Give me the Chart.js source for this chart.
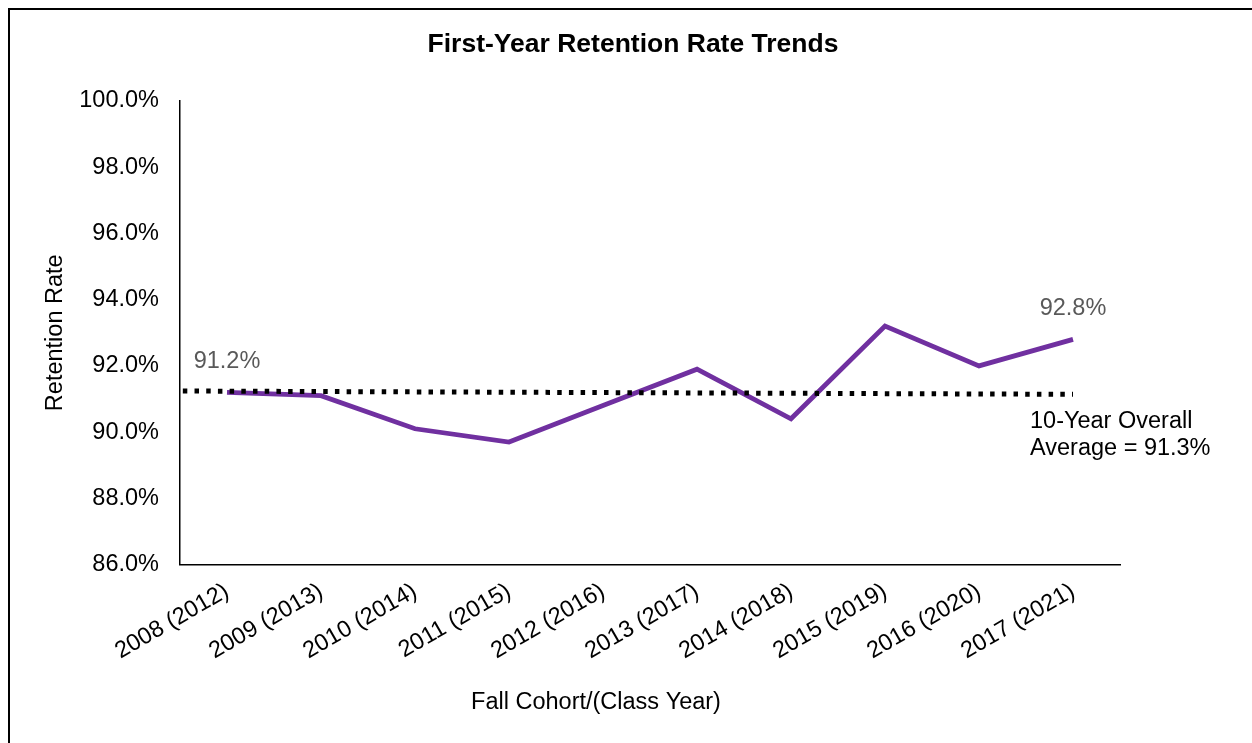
<!DOCTYPE html>
<html>
<head>
<meta charset="utf-8">
<title>First-Year Retention Rate Trends</title>
<script src="https://cdn.jsdelivr.net/npm/chart.js@4.4.1/dist/chart.umd.min.js"></script>
<style>
  html, body { margin: 0; padding: 0; background: #ffffff; overflow: hidden; }
  canvas { display: block; }
</style>
</head>
<body>
<canvas id="retention-chart" width="1252" height="743"></canvas>
<script>
// Fall cohort / (class year) categories
const cohorts = [
    '2008 (2012)', '2009 (2013)', '2010 (2014)', '2011 (2015)', '2012 (2016)',
    '2013 (2017)', '2014 (2018)', '2015 (2019)', '2016 (2020)', '2017 (2021)'
];

// First-year retention rate (%) per cohort
const retentionRates = [91.2, 91.1, 90.1, 89.7, 90.8, 91.9, 90.4, 93.2, 92.0, 92.8];

// Dotted 10-year average line: runs from the axis edge to the last cohort
const averagePositions = [-0.47, 9];
const averageValues = [91.24, 91.14];
const averageNote = ['10-Year Overall', 'Average = 91.3%'];

// Only the first and last points carry a value label
const labelledPoints = [0, 9];

// Y axis tick values (%)
const yTicks = [86, 88, 90, 92, 94, 96, 98, 100];

const FONT = "'Liberation Sans', Arial, Helvetica, sans-serif";
const PURPLE = '#7030A0';
const TEXT_SIZE = 23.5;

// Frame, data labels, average note and x axis title
const decorations = {
    id: 'decorations',
    beforeDraw(chart) {
        const ctx = chart.ctx;
        ctx.save();
        ctx.strokeStyle = '#000000';
        ctx.lineWidth = 2;
        ctx.strokeRect(9, 9, 1400, 900);
        ctx.restore();
    },
    afterDatasetsDraw(chart) {
        const ctx = chart.ctx;
        const avgMeta = chart.getDatasetMeta(0);
        const rateMeta = chart.getDatasetMeta(1);
        ctx.save();
        ctx.font = TEXT_SIZE + 'px ' + FONT;
        ctx.textAlign = 'center';
        ctx.textBaseline = 'middle';
        ctx.fillStyle = '#595959';
        labelledPoints.forEach(i => {
            const pt = rateMeta.data[i];
            ctx.fillText(retentionRates[i].toFixed(1) + '%', pt.x, pt.y - 31);
        });

        // note under the right end of the average line
        const end = avgMeta.data[avgMeta.data.length - 1];
        ctx.fillStyle = '#000000';
        ctx.textAlign = 'left';
        averageNote.forEach((line, i) => {
            ctx.fillText(line, end.x - 43, end.y + 27 + i * 27.5);
        });

        // x axis title, set a little left of the axis centre as in the original
        const xs = chart.scales.x;
        ctx.textAlign = 'center';
        ctx.fillText('Fall Cohort/(Class Year)', (xs.left + xs.right) / 2 - 54, 703);
        ctx.restore();
    }
};

function initializeRetentionChart() {
    const canvas = document.getElementById('retention-chart');
    const ctx = canvas.getContext('2d');

    Chart.defaults.font.family = FONT;
    Chart.defaults.color = '#000000';

    new Chart(ctx, {
        type: 'line',
        data: {
            labels: cohorts,
            datasets: [
                {
                    label: '10-Year Overall Average',
                    data: averagePositions.map((x, i) => ({ x: x, y: averageValues[i] })),
                    xAxisID: 'xAvg',
                    yAxisID: 'y',
                    borderColor: '#000000',
                    borderWidth: 5,
                    borderDash: [4.5, 7.2],
                    borderCapStyle: 'butt',
                    pointRadius: 0,
                    fill: false,
                    tension: 0
                },
                {
                    label: 'Retention Rate',
                    data: retentionRates,
                    xAxisID: 'x',
                    yAxisID: 'y',
                    borderColor: PURPLE,
                    backgroundColor: PURPLE,
                    borderWidth: 4.8,
                    borderJoinStyle: 'miter',
                    pointRadius: 0,
                    fill: false,
                    tension: 0
                }
            ]
        },
        options: {
            responsive: false,
            animation: false,
            devicePixelRatio: 1,
            layout: {
                padding: { left: 14, right: 0, top: 0, bottom: 0 }
            },
            plugins: {
                legend: { display: false },
                tooltip: { enabled: false },
                title: {
                    display: true,
                    text: 'First-Year Retention Rate Trends',
                    color: '#000000',
                    font: { family: FONT, size: 26.5, weight: 'bold' },
                    padding: { top: 28.8, bottom: 40.4 }
                }
            },
            scales: {
                x: {
                    type: 'category',
                    offset: true,
                    grid: { display: false, drawTicks: false },
                    border: { display: true, color: '#000000', width: 1.5 },
                    ticks: {
                        color: '#000000',
                        font: { size: TEXT_SIZE },
                        minRotation: 30,
                        maxRotation: 30,
                        autoSkip: false,
                        padding: 13
                    },
                    afterFit(scale) { scale.height = 178.5; }
                },
                xAvg: {
                    type: 'linear',
                    display: false,
                    min: -0.5,
                    max: cohorts.length - 0.5
                },
                y: {
                    position: 'left',
                    min: yTicks[0],
                    max: yTicks[yTicks.length - 1],
                    grid: { display: false, drawTicks: false },
                    border: { display: true, color: '#000000', width: 1.5 },
                    afterBuildTicks(scale) {
                        scale.ticks = yTicks.map(v => ({ value: v }));
                    },
                    ticks: {
                        color: '#000000',
                        font: { size: TEXT_SIZE },
                        padding: 21,
                        callback: value => value.toFixed(1) + '%'
                    },
                    title: {
                        display: true,
                        text: 'Retention Rate',
                        color: '#000000',
                        font: { size: TEXT_SIZE },
                        padding: { top: 27, bottom: 0 }
                    },
                    afterFit(scale) { scale.width = 166; }
                },
                // empty right-hand spacer so the plot ends where the original does
                spacer: {
                    type: 'linear',
                    position: 'right',
                    grid: { display: false, drawTicks: false },
                    border: { display: false },
                    ticks: { display: false },
                    afterFit(scale) { scale.width = 132; }
                }
            }
        },
        plugins: [decorations]
    });
}

initializeRetentionChart();
</script>
</body>
</html>
